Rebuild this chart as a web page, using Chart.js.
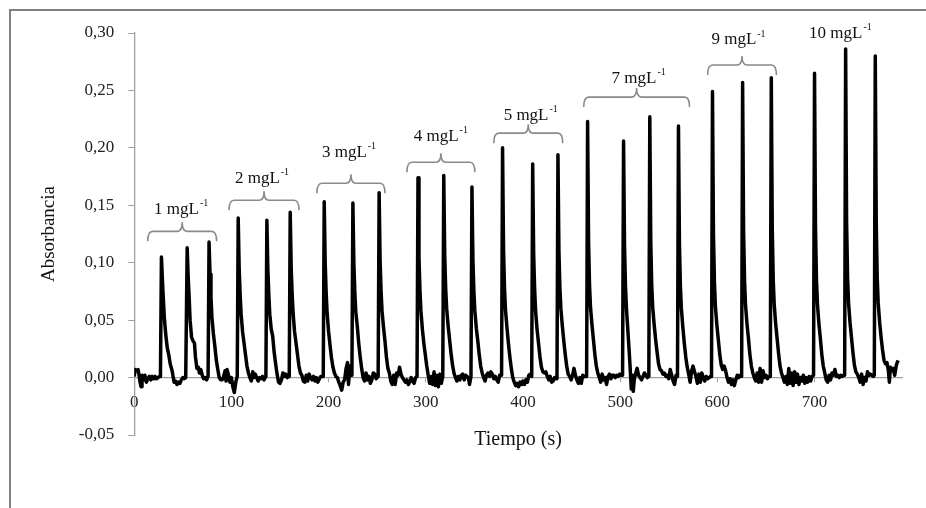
<!DOCTYPE html>
<html>
<head>
<meta charset="utf-8">
<script src="https://cdn.jsdelivr.net/npm/chart.js@4.4.1/dist/chart.umd.min.js"></script>
<style>
html, body { margin: 0; padding: 0; background: #fff; overflow: hidden; }
#marco { position: absolute; left: 9px; top: 9px; width: 915px; height: 499px;
  border-left: 2px solid #808080; border-top: 2px solid #808080; }
#grafico { position: absolute; left: 0; top: 0; }
</style>
</head>
<body>
<div id="marco"></div>
<canvas id="grafico" width="926" height="508"></canvas>
<script>
// ticks
var ticksX = [0, 100, 200, 300, 400, 500, 600, 700];
var ticksY = [-0.05, 0, 0.05, 0.10, 0.15, 0.20, 0.25, 0.30];

// concentration groups: bracket ends (s), bracket level (abs), label centre
var concentraciones = ['1', '2', '3', '4', '5', '7', '9', '10'];
var llaveInicio = [13.9, 97.6, 188, 280.6, 370, 462.5, 590, null];
var llaveFin = [84.8, 169.6, 258, 350.5, 440.9, 571.4, 660.8, null];
var llaveNivel = [0.1273, 0.1544, 0.1692, 0.1875, 0.2128, 0.2442, 0.2721, null];
var etiquetaTiempo = [48.3, 131.5, 221, 315.5, 408, 519, 621.8, 726.6];
var etiquetaNivel = [0.1465, 0.1735, 0.196, 0.2097, 0.2285, 0.2603, 0.2939, 0.2996];

// signal: [tiempo (s), absorbancia]
var senal = [
  [0,0.001],[1,0.007],[2.5,0.006],[4,0.007],[5,0.002],[6,-0.004],[7,-0.008],[8,0.002],[9.5,-0.002],[11,0.002],[12.5,-0.004],[14,-0.001],[15.5,0.001],[17,-0.002],[18.5,0.001],[20,-0.001],[21.5,0.001],[23,-0.001],[24.5,0.0],[26,0.001],[27,0.001],
  [28,0.105],[29,0.085],[30,0.068],[31,0.052],[32.5,0.037],[34,0.026],[35.5,0.02],[37,0.012],[39,0.006],[41,-0.004],[42.5,-0.003],[44,-0.006],[45.5,-0.004],[47,-0.005],[48.5,-0.002],[50,0.0],[51.5,-0.001],[53,0.0],
  [54.5,0.113],[55.5,0.088],[56.5,0.07],[57.5,0.05],[59,0.035],[60.5,0.032],[62,0.03],[63,0.018],[64.5,0.008],[66,0.009],[67,0.004],[68.5,0.007],[70,0.002],[71.5,-0.001],[73,0.0],[74.5,-0.002],[76,0.001],
  [77,0.118],[78,0.09],[79,0.07],[80,0.052],[81.5,0.038],[83,0.027],[84.5,0.015],[86,0.007],[87.5,0.0],[89,-0.002],[90.5,-0.002],[92,0.001],[93.5,0.006],[94.5,-0.003],[95.5,0.007],[97,0.002],[98.5,-0.004],[100,0.0],[101.5,-0.008],[103,-0.013],[104.5,-0.004],[106,0.001],
  [107,0.139],[108,0.095],[109,0.072],[110,0.055],[111.5,0.04],[113,0.03],[114.5,0.02],[116,0.01],[117.5,0.004],[119,0.0],[120.5,-0.003],[122,0.005],[123,0.0],[124.5,0.003],[126,0.0],[127.5,-0.003],[129,0.0],[130.5,-0.001],[132,0.001],[133.5,-0.002],[135.5,0.001],
  [136.5,0.137],[137.5,0.094],[138.5,0.072],[139.5,0.055],[141,0.042],[142.5,0.036],[144,0.022],[145.5,0.012],[147,0.003],[148.5,-0.004],[150,-0.005],[151.5,-0.002],[153,0.004],[154.5,0.001],[156,0.003],[157.5,0.0],[159.5,0.001],
  [160.5,0.144],[161.5,0.096],[162.5,0.073],[163.5,0.056],[165,0.04],[166.5,0.03],[168,0.02],[169.5,0.01],[171,0.004],[172.5,0.002],[174,-0.003],[175.5,-0.004],[177,0.002],[178.5,-0.003],[180,0.003],[181.5,0.0],[183,-0.002],[184.5,0.001],[186,-0.003],[187.5,0.0],[189,-0.004],[190.5,-0.001],[192,0.001],[194.5,0.001],
  [195.5,0.153],[196.5,0.1],[197.5,0.074],[198.5,0.056],[200,0.04],[201.5,0.028],[203,0.017],[204.5,0.009],[206,0.004],[207.5,0.001],[209,0.0],[210.5,-0.004],[212,-0.007],[213.5,-0.011],[215,-0.004],[216.5,-0.002],[218,0.008],[219.5,0.013],[220.5,-0.006],[222,0.01],[224,0.002],
  [225,0.152],[226,0.1],[227,0.074],[228,0.057],[229.5,0.045],[231,0.03],[232.5,0.018],[234,0.008],[235.5,0.0],[237,-0.003],[238.5,0.004],[240,-0.002],[241.5,0.001],[243,-0.005],[244.5,-0.002],[246,0.004],[247.5,0.003],[249,-0.001],[251,0.001],
  [252,0.161],[253,0.102],[254,0.075],[255,0.058],[256.5,0.044],[258,0.032],[259.5,0.018],[261,0.008],[262.5,0.004],[264,-0.003],[265.5,-0.006],[267,0.002],[268.5,-0.006],[270,0.004],[271.5,0.002],[273,0.009],[274.5,0.003],[276,0.0],[277.5,-0.002],[279,-0.004],[280.5,-0.002],[282,-0.006],[283.5,-0.004],[285,0.0],[286.5,-0.003],[288,-0.005],[289.5,0.0],[291,0.001],
  [292,0.174],[293,0.105],[294,0.076],[295,0.058],[296.5,0.042],[298,0.03],[299.5,0.02],[301,0.01],[302.5,0.002],[304,-0.005],[305.5,0.001],[307,-0.006],[308.5,0.005],[310,-0.007],[311.5,0.002],[313,-0.008],[314.5,0.003],[316,-0.005],[317.5,0.001],
  [318.5,0.176],[319.5,0.106],[320.5,0.077],[321.5,0.06],[323,0.045],[324.5,0.033],[326,0.021],[327.5,0.011],[329,0.004],[330.5,0.0],[332,-0.003],[333.5,0.001],[335,-0.002],[336.5,0.002],[338,0.003],[339.5,-0.002],[341,0.002],[342.5,0.001],[344,-0.001],[345,-0.006],[346.5,0.001],
  [347.5,0.166],[348.5,0.103],[349.5,0.075],[350.5,0.058],[352,0.043],[353.5,0.032],[355,0.02],[356.5,0.01],[358,0.004],[359.5,0.0],[361,-0.003],[362.5,0.002],[364,0.004],[365.5,0.001],[367,0.005],[368.5,0.003],[370,-0.001],[371.5,0.001],[373,-0.002],[374.5,-0.004],[376,0.002],[378,0.002],
  [379,0.2],[380,0.112],[381,0.078],[382,0.059],[383.5,0.044],[385,0.03],[386.5,0.018],[388,0.008],[389.5,0.0],[391,-0.004],[392.5,-0.007],[394,-0.005],[395.5,-0.008],[397,-0.004],[398.5,-0.006],[400,-0.003],[401.5,-0.006],[403,-0.002],[404.5,-0.004],[406,0.002],[407.5,0.003],[409,0.001],
  [410,0.186],[411,0.108],[412,0.077],[413,0.058],[414.5,0.042],[416,0.03],[417.5,0.018],[419,0.009],[420.5,0.005],[422,0.004],[423.5,0.005],[425,0.001],[426.5,-0.002],[428,0.001],[429.5,-0.004],[431,-0.003],[432.5,0.0],[434,-0.001],[435,0.001],
  [436,0.194],[437,0.11],[438,0.078],[439,0.06],[440.5,0.045],[442,0.032],[443.5,0.02],[445,0.01],[446.5,0.003],[448,0.001],[449.5,-0.002],[451,0.002],[452.5,0.008],[454,0.002],[455.5,-0.002],[457,-0.005],[458.5,0.0],[460,-0.005],[461.5,0.002],[463,0.001],[465.5,0.001],
  [466.5,0.223],[467.5,0.118],[468.5,0.08],[469.5,0.061],[471,0.046],[472.5,0.033],[474,0.02],[475.5,0.01],[477,0.004],[478.5,0.0],[480,-0.004],[481.5,0.003],[483,-0.002],[484.5,0.0],[486,-0.006],[487.5,0.001],[489,0.003],[490.5,-0.001],[492,0.002],[493.5,0.002],[495,0.0],[496.5,0.002],[498,0.001],[499.5,0.003],[501,0.002],[502.5,0.002],
  [503.5,0.206],[504.5,0.114],[505.5,0.079],[506.5,0.06],[508,0.04],[509.5,0.02],[510.5,0.005],[511.5,-0.01],[512.5,0.002],[513.5,-0.012],[514.5,-0.002],[516,0.004],[517.5,0.008],[519,0.002],[520.5,0.0],[522,-0.002],[523.5,0.001],[525,0.004],[526.5,0.002],[528,0.0],[529.5,0.001],
  [530.5,0.227],[531.5,0.118],[532.5,0.08],[533.5,0.061],[535,0.046],[536.5,0.033],[538,0.022],[539.5,0.012],[541,0.007],[542.5,0.006],[544,0.003],[545.5,0.004],[547,0.001],[548.5,0.002],[550,-0.001],[551.5,0.007],[553,0.002],[554.5,-0.003],[556,-0.006],[557.5,0.002],[559,0.001],
  [560,0.219],[561,0.116],[562,0.079],[563,0.06],[564.5,0.044],[566,0.03],[567.5,0.018],[569,0.009],[570.5,0.003],[572,-0.004],[573.5,0.006],[575,0.01],[576.5,0.005],[578,0.001],[579.5,-0.005],[581,0.003],[582.5,-0.004],[584,0.004],[585.5,0.0],[587,-0.003],[588.5,0.001],[590,-0.001],[591.5,0.0],[593,0.001],[594,0.001],
  [595,0.249],[596,0.125],[597,0.083],[598,0.062],[599.5,0.046],[601,0.033],[602.5,0.02],[604,0.011],[605.5,0.007],[607,0.01],[608.5,0.006],[610,0.0],[611.5,-0.004],[613,-0.001],[614.5,-0.006],[616,-0.002],[617.5,-0.007],[619,-0.002],[620.5,0.002],[622,0.0],[623.5,0.002],[625,0.001],
  [626,0.257],[627,0.128],[628,0.084],[629,0.063],[630.5,0.047],[632,0.034],[633.5,0.02],[635,0.01],[636.5,0.004],[638,0.0],[639.5,-0.003],[641,0.004],[642.5,-0.004],[644,0.008],[645.5,-0.004],[647,0.006],[648.5,0.0],[650,0.002],[651.5,-0.001],[653,0.001],[654.5,0.001],
  [655.5,0.261],[656.5,0.13],[657.5,0.085],[658.5,0.064],[660,0.047],[661.5,0.034],[663,0.021],[664.5,0.01],[666,0.004],[667.5,0.0],[669,-0.004],[670.5,0.001],[672,-0.006],[673.5,0.008],[675,-0.005],[676.5,0.004],[678,-0.007],[679.5,0.005],[681,-0.004],[682.5,0.003],[684,-0.006],[685.5,0.0],[687,-0.003],[688.5,0.002],[690,-0.005],[691.5,0.0],[693,-0.004],[694.5,0.001],[696,-0.003],[697.5,0.001],[699,0.002],
  [700,0.265],[701,0.13],[702,0.085],[703,0.064],[704.5,0.047],[706,0.034],[707.5,0.02],[709,0.01],[710.5,0.004],[712,-0.002],[713.5,-0.004],[715,0.002],[716.5,-0.002],[718,0.004],[719.5,0.002],[721,0.007],[722.5,0.001],[724,0.002],[725.5,0.0],[727,0.002],[728.5,0.001],[730,0.002],[731,0.002],
  [732,0.286],[733,0.135],[734,0.087],[735,0.065],[736.5,0.048],[738,0.035],[739.5,0.022],[741,0.011],[742.5,0.005],[744,0.003],[745.5,0.0],[747,-0.004],[748.5,0.003],[750,-0.006],[751.5,0.0],[753,-0.003],[754.5,0.005],[756,0.002],[757.5,0.003],[759,0.002],[760.5,0.001],[761.5,0.002],
  [762.5,0.28],[763.5,0.134],[764.5,0.087],[765.5,0.065],[767,0.048],[768.5,0.035],[770,0.024],[771.5,0.015],[773,0.012],[774.5,0.013],[776,0.006],[777,-0.004],[778,0.009],[779.5,0.006],[781,0.008],[782.5,0.002],[784,0.01],[785,0.013],[786,0.015]
];

var serif = '"Liberation Serif", "Times New Roman", serif';

// brackets and "N mgL-1" labels
var llaves = {
  id: 'llaves',
  afterDraw: function(chart) {
    var ctx = chart.ctx;
    var x = chart.scales.x, y = chart.scales.y;
    ctx.save();
    ctx.strokeStyle = '#8a8a8a';
    ctx.lineWidth = 1.6;
    for (var i = 0; i < concentraciones.length; i++) {
      if (llaveInicio[i] !== null) {
        var x1 = x.getPixelForValue(llaveInicio[i]);
        var x2 = x.getPixelForValue(llaveFin[i]);
        var yl = y.getPixelForValue(llaveNivel[i]);
        var cx = (x1 + x2) / 2;
        ctx.beginPath();
        ctx.moveTo(x1, yl + 10);
        ctx.quadraticCurveTo(x1, yl, x1 + 5, yl);
        ctx.lineTo(cx - 5, yl);
        ctx.quadraticCurveTo(cx, yl, cx, yl - 9);
        ctx.quadraticCurveTo(cx, yl, cx + 5, yl);
        ctx.lineTo(x2 - 5, yl);
        ctx.quadraticCurveTo(x2, yl, x2, yl + 10);
        ctx.stroke();
      }
      var tx = x.getPixelForValue(etiquetaTiempo[i]);
      var ty = y.getPixelForValue(etiquetaNivel[i]);
      var main = concentraciones[i] + ' mgL';
      var sup = '-1';
      ctx.fillStyle = '#111';
      ctx.textBaseline = 'middle';
      ctx.textAlign = 'left';
      ctx.font = '17px ' + serif;
      var w1 = ctx.measureText(main).width;
      ctx.font = '10px ' + serif;
      var w2 = ctx.measureText(sup).width;
      var x0 = tx - (w1 + w2 + 1) / 2;
      ctx.font = '17px ' + serif;
      ctx.fillText(main, x0, ty);
      ctx.font = '10px ' + serif;
      ctx.fillText(sup, x0 + w1 + 1, ty - 6);
    }
    ctx.restore();
  }
};

var grafico = new Chart(document.getElementById('grafico'), {
  type: 'line',
  data: {
    datasets: [{
      data: senal,
      borderColor: '#000',
      borderWidth: 3.5,
      borderJoinStyle: 'round',
      pointRadius: 0,
      tension: 0,
      fill: false
    }]
  },
  options: {
    responsive: false,
    animation: false,
    events: [],
    layout: { padding: { left: 30, right: 24, top: 33, bottom: 73 } },
    plugins: { legend: { display: false }, tooltip: { enabled: false } },
    scales: {
      x: {
        type: 'linear',
        position: { y: 0 },
        min: 0,
        max: 790,
        afterBuildTicks: function(scale) {
          scale.ticks = ticksX.map(function(v) { return { value: v }; });
        },
        grid: { display: true, drawOnChartArea: false, drawTicks: true, tickLength: 4, color: '#a0a0a0' },
        border: { display: true, color: '#a0a0a0', width: 1.3 },
        ticks: {
          padding: 11,
          maxRotation: 0,
          color: '#222',
          font: { family: serif, size: 17 },
          callback: function(v) { return String(v); }
        },
        title: {
          display: true,
          text: 'Tiempo (s)',
          color: '#111',
          font: { family: serif, size: 20 },
          padding: { top: 4, bottom: 0 }
        }
      },
      y: {
        type: 'linear',
        position: 'left',
        min: -0.05,
        max: 0.30,
        afterBuildTicks: function(scale) {
          scale.ticks = ticksY.map(function(v) { return { value: v }; });
        },
        grid: { display: true, drawOnChartArea: false, drawTicks: true, tickLength: 6, color: '#a0a0a0' },
        border: { display: true, color: '#a0a0a0', width: 1.3 },
        ticks: {
          padding: 14,
          color: '#222',
          font: { family: serif, size: 17 },
          callback: function(v) { return v.toFixed(2).replace('.', ','); }
        },
        title: {
          display: true,
          text: 'Absorbancia',
          color: '#111',
          font: { family: serif, size: 19 },
          padding: { top: 8, bottom: 4 }
        }
      }
    }
  },
  plugins: [llaves]
});
</script>
</body>
</html>
